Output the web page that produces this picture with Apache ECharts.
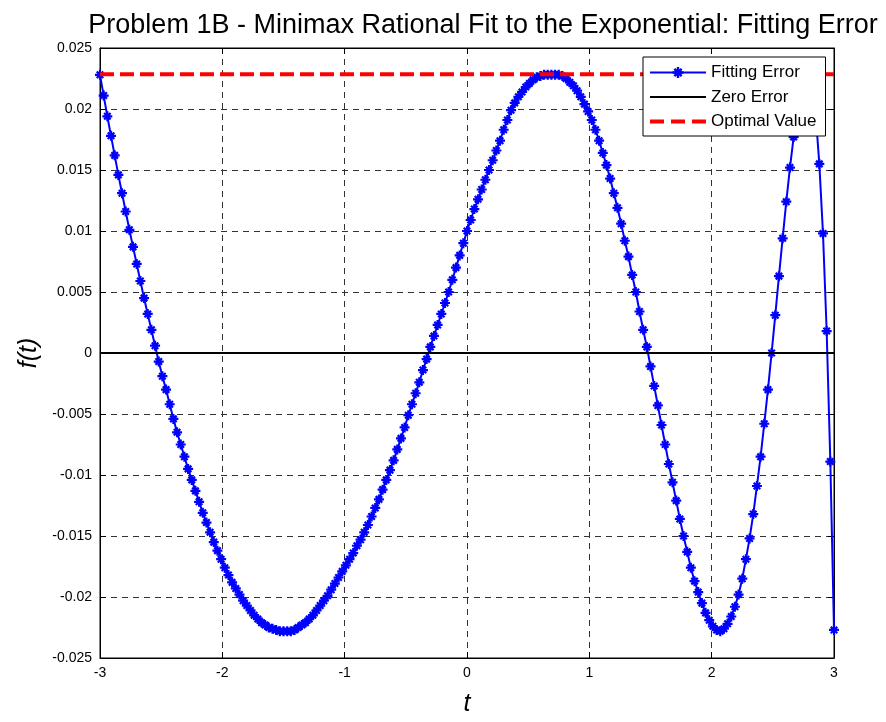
<!DOCTYPE html>
<html>
<head>
<meta charset="utf-8">
<script src="https://cdn.jsdelivr.net/npm/echarts@6/dist/echarts.min.js"></script>
<style>
html,body{margin:0;padding:0;background:#fff;}
#chart{width:886px;height:722px;}
</style>
</head>
<body>
<div id="chart"></div>
<script>
// ---- data ----
const titleText = 'Problem 1B - Minimax Rational Fit to the Exponential: Fitting Error';
const legendNames = ['Fitting Error', 'Zero Error', 'Optimal Value'];
const xTicks = [-3, -2, -1, 0, 1, 2, 3];
const yTicks = [-0.025, -0.02, -0.015, -0.01, -0.005, 0, 0.005, 0.01, 0.015, 0.02, 0.025];

const tValues = [
  -3, -2.97, -2.94, -2.91, -2.88, -2.85, -2.82, -2.79, -2.76, -2.73,
  -2.7, -2.67, -2.64, -2.61, -2.58, -2.55, -2.52, -2.49, -2.46, -2.43,
  -2.4, -2.37, -2.34, -2.31, -2.28, -2.25, -2.22, -2.19, -2.16, -2.13,
  -2.1, -2.07, -2.04, -2.01, -1.98, -1.95, -1.92, -1.89, -1.86, -1.83,
  -1.8, -1.77, -1.74, -1.71, -1.68, -1.65, -1.62, -1.59, -1.56, -1.53,
  -1.5, -1.47, -1.44, -1.41, -1.38, -1.35, -1.32, -1.29, -1.26, -1.23,
  -1.2, -1.17, -1.14, -1.11, -1.08, -1.05, -1.02, -0.99, -0.96, -0.93,
  -0.9, -0.87, -0.84, -0.81, -0.78, -0.75, -0.72, -0.69, -0.66, -0.63,
  -0.6, -0.57, -0.54, -0.51, -0.48, -0.45, -0.42, -0.39, -0.36, -0.33,
  -0.3, -0.27, -0.24, -0.21, -0.18, -0.15, -0.12, -0.09, -0.06, -0.03,
  0, 0.03, 0.06, 0.09, 0.12, 0.15, 0.18, 0.21, 0.24, 0.27,
  0.3, 0.33, 0.36, 0.39, 0.42, 0.45, 0.48, 0.51, 0.54, 0.57,
  0.6, 0.63, 0.66, 0.69, 0.72, 0.75, 0.78, 0.81, 0.84, 0.87,
  0.9, 0.93, 0.96, 0.99, 1.02, 1.05, 1.08, 1.11, 1.14, 1.17,
  1.2, 1.23, 1.26, 1.29, 1.32, 1.35, 1.38, 1.41, 1.44, 1.47,
  1.5, 1.53, 1.56, 1.59, 1.62, 1.65, 1.68, 1.71, 1.74, 1.77,
  1.8, 1.83, 1.86, 1.89, 1.92, 1.95, 1.98, 2.01, 2.04, 2.07,
  2.1, 2.13, 2.16, 2.19, 2.22, 2.25, 2.28, 2.31, 2.34, 2.37,
  2.4, 2.43, 2.46, 2.49, 2.52, 2.55, 2.58, 2.61, 2.64, 2.67,
  2.7, 2.73, 2.76, 2.79, 2.82, 2.85, 2.88, 2.91, 2.94, 2.97,
  3
];

const errorValues = [
  0.0228, 0.0211, 0.0194, 0.0178, 0.0162, 0.0146, 0.0131, 0.0116, 0.0101, 0.0087,
  0.0073, 0.0059, 0.0045, 0.0032, 0.0019, 0.0006, -0.0007, -0.0019, -0.0030, -0.0042,
  -0.0054, -0.0065, -0.0075, -0.0085, -0.0095, -0.0104, -0.0113, -0.0122, -0.0131, -0.0139,
  -0.0147, -0.0155, -0.0162, -0.0169, -0.0176, -0.0182, -0.0188, -0.0193, -0.0198, -0.0203,
  -0.0207, -0.0211, -0.0215, -0.0218, -0.0221, -0.0223, -0.0225, -0.0226, -0.0227, -0.0228,
  -0.0228, -0.0228, -0.0228, -0.0227, -0.0225, -0.0223, -0.0221, -0.0218, -0.0215, -0.0211,
  -0.0207, -0.0203, -0.0199, -0.0194, -0.0189, -0.0184, -0.0179, -0.0174, -0.0169, -0.0164,
  -0.0158, -0.0153, -0.0147, -0.0141, -0.0134, -0.0127, -0.0120, -0.0112, -0.0104, -0.0096,
  -0.0088, -0.0079, -0.0070, -0.0061, -0.0051, -0.0042, -0.0033, -0.0024, -0.0014, -0.0005,
  0.0005, 0.0014, 0.0023, 0.0032, 0.0041, 0.0050, 0.0060, 0.0070, 0.0080, 0.0090,
  0.0100, 0.0109, 0.0118, 0.0126, 0.0134, 0.0142, 0.0150, 0.0158, 0.0166, 0.0174,
  0.0183, 0.0191, 0.0199, 0.0205, 0.0210, 0.0214, 0.0218, 0.0221, 0.0224, 0.0226,
  0.0227, 0.0228, 0.0228, 0.0228, 0.0228, 0.0228, 0.0227, 0.0225, 0.0222, 0.0219,
  0.0215, 0.0210, 0.0204, 0.0198, 0.0191, 0.0183, 0.0174, 0.0164, 0.0154, 0.0143,
  0.0131, 0.0119, 0.0106, 0.0092, 0.0079, 0.0064, 0.0050, 0.0034, 0.0019, 0.0005,
  -0.0011, -0.0027, -0.0043, -0.0059, -0.0075, -0.0091, -0.0106, -0.0121, -0.0136, -0.0150,
  -0.0163, -0.0176, -0.0187, -0.0196, -0.0205, -0.0213, -0.0219, -0.0224, -0.0227, -0.0228,
  -0.0226, -0.0222, -0.0216, -0.0208, -0.0198, -0.0185, -0.0169, -0.0152, -0.0132, -0.0109,
  -0.0085, -0.0058, -0.0030, 0.0000, 0.0031, 0.0063, 0.0094, 0.0124, 0.0152, 0.0177,
  0.0198, 0.0214, 0.0224, 0.0228, 0.0222, 0.0196, 0.0155, 0.0098, 0.0018, -0.0089,
  -0.0227
];

const zeroLine = [[-3, 0], [3, 0]];
const optimalValue = 0.02285;
const optimalLine = [[-3, optimalValue], [3, optimalValue]];

// ---- chart ----
const FONT = '"Liberation Sans", Arial, Helvetica, sans-serif';
const asterisk = 'path://M0 7.8 L20 7.8 L20 12.2 L0 12.2 Z ' +
  'M7.8 0 L12.2 0 L12.2 20 L7.8 20 Z ' +
  'M1.94 5.06 L5.06 1.94 L18.06 14.94 L14.94 18.06 Z ' +
  'M14.94 1.94 L18.06 5.06 L5.06 18.06 L1.94 14.94 Z';
const solidIcon = 'path://M0 0 L56 0 L56 2 L0 2 Z';
const dashIcon = 'path://M0 0 L14 0 L14 4 L0 4 Z M21 0 L35 0 L35 4 L21 4 Z M42 0 L56 0 L56 4 L42 4 Z';

const fmt = v => String(+v.toFixed(3));

const chart = echarts.init(document.getElementById('chart'), null, {renderer: 'canvas'});
const option = {
  animation: false,
  backgroundColor: '#fff',
  title: {
    text: titleText,
    left: 478,
    textAlign: 'center',
    top: 7,
    textStyle: {fontFamily: FONT, fontSize: 27, fontWeight: 'normal', color: '#000'}
  },
  grid: {
    left: 100, right: 52, top: 48, bottom: 54,
    show: true, borderColor: '#000', borderWidth: 1, backgroundColor: '#fff'
  },
  legend: {
    data: [
      {name: legendNames[0]},
      {name: legendNames[1], icon: solidIcon},
      {name: legendNames[2], icon: dashIcon}
    ],
    orient: 'vertical',
    left: 643, top: 57,
    itemWidth: 56, itemHeight: 14, itemGap: 7.5,
    symbolKeepAspect: true,
    padding: [7, 9, 6, 6],
    borderColor: '#000', borderWidth: 1, backgroundColor: '#fff',
    z: 10,
    textStyle: {fontFamily: FONT, fontSize: 17, color: '#000'}
  },
  xAxis: [
    {
      type: 'value', position: 'bottom', min: xTicks[0], max: xTicks[xTicks.length - 1], interval: 1,
      name: 't', nameLocation: 'middle', nameGap: 34,
      nameTextStyle: {fontFamily: FONT, fontSize: 25, fontStyle: 'italic', color: '#000'},
      axisLine: {show: true, onZero: false, lineStyle: {color: '#000', width: 1}},
      axisTick: {show: true, inside: true, length: 6, lineStyle: {color: '#000'}},
      axisLabel: {fontFamily: FONT, fontSize: 14, color: '#000', margin: 8, formatter: fmt},
      splitLine: {show: true, lineStyle: {color: '#333', type: [6, 5], width: 1}}
    },
    {
      type: 'value', position: 'top', min: xTicks[0], max: xTicks[xTicks.length - 1], interval: 1,
      axisLine: {show: true, onZero: false, lineStyle: {color: '#000', width: 1}},
      axisTick: {show: true, inside: true, length: 6, lineStyle: {color: '#000'}},
      axisLabel: {show: false}, splitLine: {show: false}
    }
  ],
  yAxis: [
    {
      type: 'value', position: 'left', min: yTicks[0], max: yTicks[yTicks.length - 1], interval: 0.005,
      name: 'f(t)', nameLocation: 'middle', nameGap: 56,
      nameTextStyle: {fontFamily: FONT, fontSize: 25, fontStyle: 'italic', color: '#000'},
      axisLine: {show: true, onZero: false, lineStyle: {color: '#000', width: 1}},
      axisTick: {show: true, inside: true, length: 6, lineStyle: {color: '#000'}},
      axisLabel: {fontFamily: FONT, fontSize: 14, color: '#000', margin: 8, formatter: fmt},
      splitLine: {show: true, lineStyle: {color: '#333', type: [6, 5], width: 1}}
    },
    {
      type: 'value', position: 'right', min: yTicks[0], max: yTicks[yTicks.length - 1], interval: 0.005,
      axisLine: {show: true, onZero: false, lineStyle: {color: '#000', width: 1}},
      axisTick: {show: true, inside: true, length: 6, lineStyle: {color: '#000'}},
      axisLabel: {show: false}, splitLine: {show: false}
    }
  ],
  series: [
    {
      name: legendNames[0], type: 'line',
      data: tValues.map((t, i) => [t, errorValues[i]]),
      symbol: asterisk, symbolSize: 10, showAllSymbol: true,
      lineStyle: {color: '#0000ff', width: 2},
      itemStyle: {color: '#0000ff'},
      z: 2
    },
    {
      name: legendNames[1], type: 'line', data: zeroLine,
      symbol: 'none', lineStyle: {color: '#000', width: 2}, itemStyle: {color: '#000'}, z: 3
    },
    {
      name: legendNames[2], type: 'line', data: optimalLine,
      symbol: 'none', lineStyle: {color: '#ff0000', width: 4, type: [14, 6]}, itemStyle: {color: '#ff0000'}, z: 4
    }
  ]
};
chart.setOption(option);
</script>
</body>
</html>
